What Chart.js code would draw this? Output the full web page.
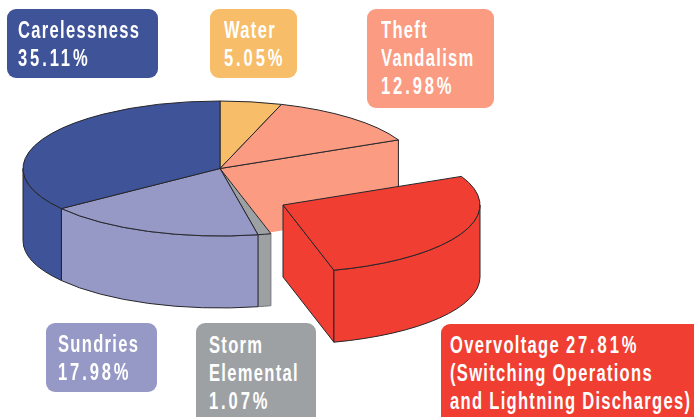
<!DOCTYPE html>
<html>
<head>
<meta charset="utf-8">
<script src="https://cdn.jsdelivr.net/npm/chart.js@4"></script>
<style>
html,body{margin:0;padding:0;background:#fff;overflow:hidden}
#wrap{position:relative;width:694px;height:417px;overflow:hidden}
canvas{position:absolute;left:0;top:0}
.box{position:absolute;box-sizing:border-box;border-radius:9px;color:#fff;
font:bold 23px/28px "Liberation Sans",sans-serif;letter-spacing:1.8px;white-space:nowrap}
.box span{display:block;transform:scaleX(.72);transform-origin:0 0}
.box i{font-style:normal;letter-spacing:4px}
</style>
</head>
<body>
<div id="wrap"><canvas id="pie" width="694" height="417"></canvas></div>
<script>
const categories = ["Water","Theft Vandalism","Overvoltage","Storm Elemental","Sundries","Carelessness"];
const shares = [5.05,12.98,27.81,1.07,17.98,35.11];
const colors = ["#f7bd68","#fa9b82","#f03e32","#9ea1a4","#9699c5","#3f5399"];

// label boxes, same order as categories
const labelLines = [
  ["Water","5.05%"],
  ["Theft","Vandalism","12.98%"],
  ["Overvoltage 27.81%","(Switching Operations","and Lightning Discharges)"],
  ["Storm","Elemental","1.07%"],
  ["Sundries","17.98%"],
  ["Carelessness","35.11%"]
];
const labelBoxes = [
  [209.5,9,87.5,69,14.5,7],
  [366.5,9,127,99,14.5,7],
  [441,323.5,270,110,9,7],
  [195.5,323,120,110,13.5,8],
  [46,323,111,69,12,6.5],
  [6.5,9,151.5,69,11.5,7]
];

const tilt = 0.3426;     // squash of the pie circle
const depth = 72;        // height of the side walls
const centerY = 168.5;   // where the pie centre ends up on screen
const explodedIndex = 2;
const stormIndex = 3;
const explodeX = 63, explodeY = 36.5;
const lineColor = "#26262b";

labelLines.forEach((lines,i) => {
  let b = labelBoxes[i];
  let d = document.createElement("div");
  d.className = "box";
  d.style.cssText = `left:${b[0]}px;top:${b[1]}px;width:${b[2]}px;height:${b[3]}px;padding:${b[5]}px 0 0 ${b[4]}px;background:${colors[i]}`;
  // the digits are set wider than the words in the original
  d.innerHTML = "<span>" + lines.join("<br>").replace(/[\d.]+%/,"<i>$&</i>") + "</span>";
  document.getElementById("wrap").appendChild(d);
});

function drawWall(ctx,arc,cy,color,edge){
  let a0 = Math.max(arc.startAngle,0);
  let a1 = Math.min(arc.endAngle,Math.PI);
  if(a0 >= a1) return;
  let r = arc.outerRadius;
  ctx.beginPath();
  ctx.ellipse(arc.x,cy,r,r*tilt,0,a0,a1);
  ctx.ellipse(arc.x,cy+depth,r,r*tilt,0,a1,a0,true);
  ctx.closePath();
  ctx.fillStyle = color;
  ctx.fill();
  ctx.strokeStyle = edge;
  ctx.stroke();
  ctx.strokeStyle = lineColor;
}

function drawTop(chart,ctx,arc,cy,chartMidY){
  ctx.save();
  ctx.translate(0,cy);
  ctx.scale(1,tilt);
  ctx.translate(0,-chartMidY);
  arc.draw(ctx);
  ctx.restore();
  ctx.beginPath();
  ctx.moveTo(arc.x,cy);
  ctx.ellipse(arc.x,cy,arc.outerRadius,arc.outerRadius*tilt,0,arc.startAngle,arc.endAngle);
  ctx.closePath();
  ctx.stroke();
}

const pie3d = {
  id:"pie3d",
  beforeDatasetsDraw(chart){
    let ctx = chart.ctx;
    let arcs = chart.getDatasetMeta(0).data;
    let midY = arcs[0].y;
    let gone = arcs[explodedIndex];
    let r = gone.outerRadius, cx = gone.x;
    let ps = [cx+r*Math.cos(gone.startAngle),centerY+r*tilt*Math.sin(gone.startAngle)];
    let pe = [cx+r*Math.cos(gone.endAngle),centerY+r*tilt*Math.sin(gone.endAngle)];

    ctx.save();
    ctx.lineWidth = 1;
    ctx.strokeStyle = lineColor;
    ctx.lineJoin = "round";

    // hole left by the pulled out slice
    let slope = (ps[1]-centerY)/(ps[0]-cx);
    ctx.beginPath();
    ctx.moveTo(cx,centerY);
    ctx.lineTo(ps[0],ps[1]);
    ctx.lineTo(ps[0],ps[1]+depth);
    ctx.lineTo(pe[0],centerY+depth+slope*(pe[0]-cx));
    ctx.lineTo(pe[0],pe[1]);
    ctx.closePath();
    ctx.fillStyle = colors[1];
    ctx.fill();
    ctx.beginPath();
    ctx.moveTo(ps[0],ps[1]+depth);
    ctx.lineTo(ps[0],ps[1]);
    ctx.lineTo(cx,centerY);
    ctx.stroke();

    arcs.forEach((arc,i) => {
      if(i != explodedIndex) drawWall(ctx,arc,centerY,colors[i],i == stormIndex ? "#75787b" : lineColor);
    });
    arcs.forEach((arc,i) => {
      if(i != explodedIndex) drawTop(chart,ctx,arc,centerY,midY);
    });

    // pulled out slice
    ctx.translate(explodeX,0);
    let cy2 = centerY+explodeY;
    ctx.beginPath();
    ctx.moveTo(cx,cy2);
    ctx.lineTo(pe[0],cy2+r*tilt*Math.sin(gone.endAngle));
    ctx.lineTo(pe[0],cy2+r*tilt*Math.sin(gone.endAngle)+depth);
    ctx.lineTo(cx,cy2+depth);
    ctx.closePath();
    ctx.fillStyle = colors[explodedIndex];
    ctx.fill();
    ctx.stroke();
    drawWall(ctx,gone,cy2,colors[explodedIndex],lineColor);
    drawTop(chart,ctx,gone,cy2,midY);
    ctx.restore();
    return false;
  }
};

new Chart(document.getElementById("pie"),{
  type:"pie",
  data:{
    labels:categories,
    datasets:[{data:shares,backgroundColor:colors,borderWidth:0}]
  },
  options:{
    responsive:false,
    animation:false,
    events:[],
    layout:{padding:{left:23,right:277,top:11.5,bottom:11.5}},
    plugins:{legend:{display:false},tooltip:{enabled:false}}
  },
  plugins:[pie3d]
});
</script>
</body>
</html>
